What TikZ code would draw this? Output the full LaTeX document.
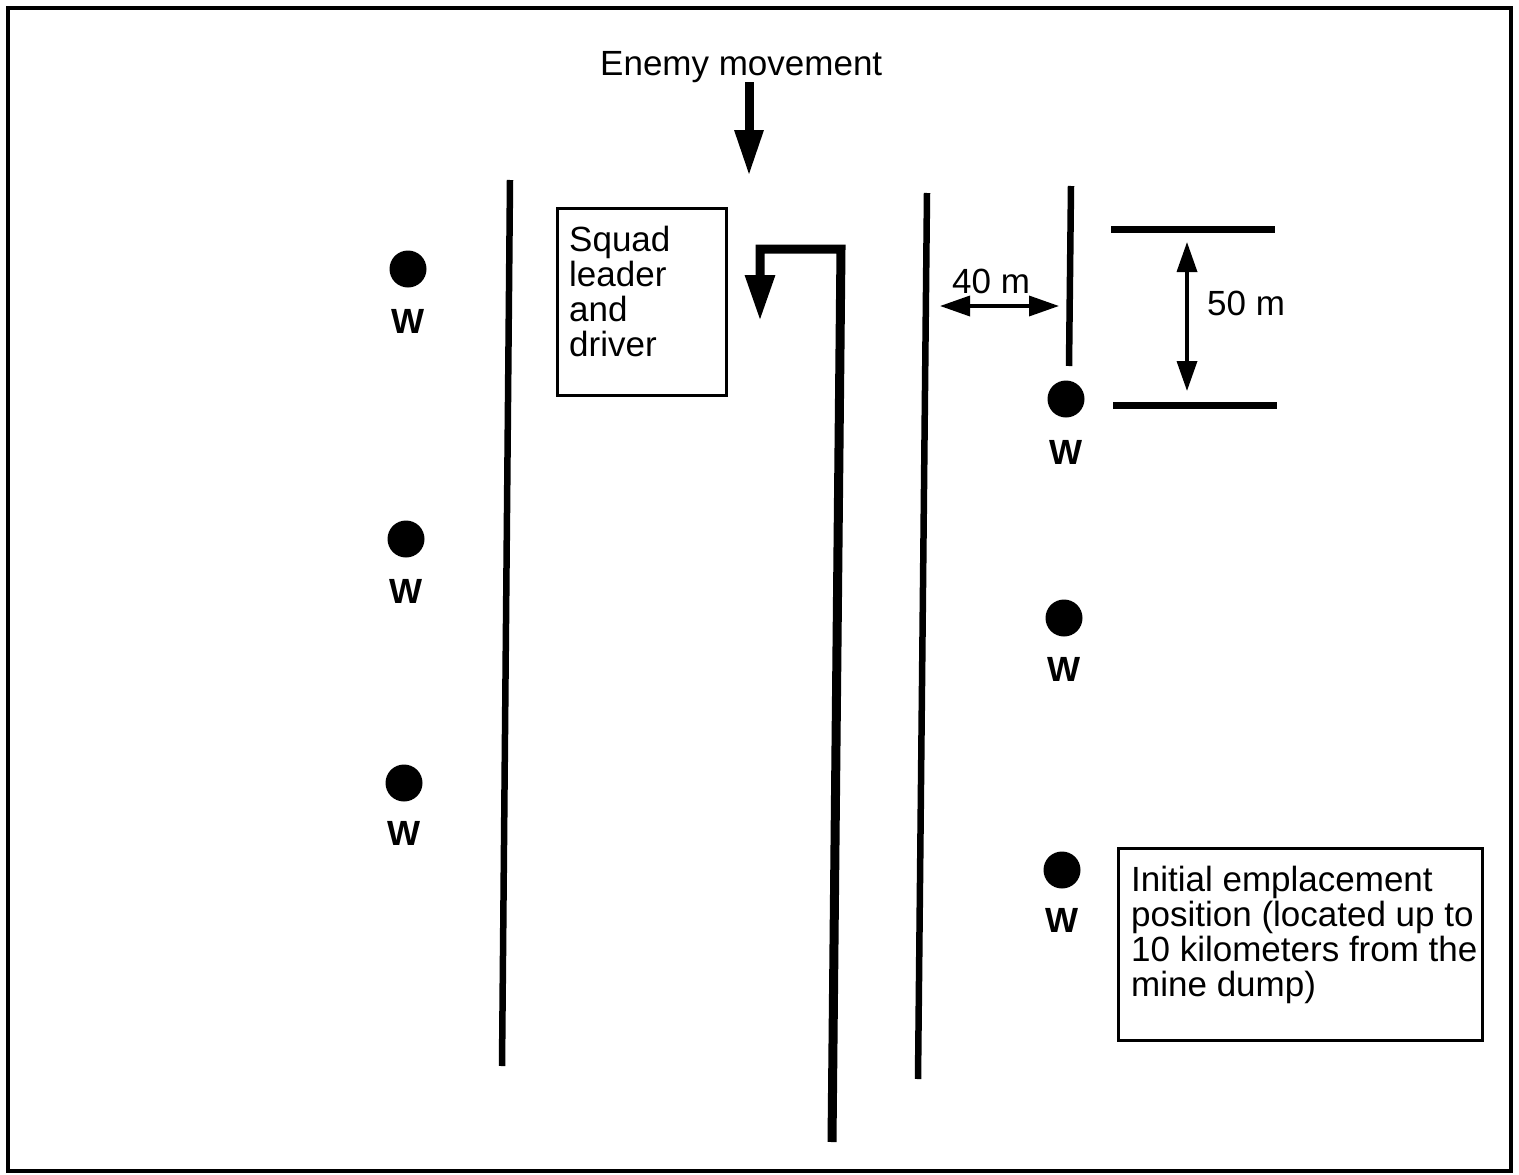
\documentclass[tikz,border=0pt]{standalone}
\usepackage{fontspec}
\setmainfont{Liberation Sans}
\usetikzlibrary{arrows.meta}
\begin{document}
\begin{tikzpicture}[x=1pt,y=-1pt,
  lbl/.style={font=\fontsize{35}{35}\selectfont, inner sep=0pt},
  wlbl/.style={font=\fontsize{35}{35}\selectfont\bfseries, inner sep=0pt},
  dot/.style={circle, fill=black, minimum size=37pt, inner sep=0pt},
  lane/.style={line width=6.5pt},
  bar/.style={line width=7pt},
  road/.style={line width=9pt, line join=miter, -{Triangle[length=46pt,width=28pt]}},
  enemy/.style={line width=9pt, -{Triangle[length=46pt,width=27pt]}},
  dim/.style={line width=3.5pt, {Triangle[length=30pt,width=20pt]}-{Triangle[length=30pt,width=20pt]}},
  boxed/.style={draw, line width=3pt, inner sep=0pt, anchor=north west}
]
\useasboundingbox (0,0) rectangle (1519,1175);
\fill[white] (0,0) rectangle (1519,1175);
\draw[line width=3.5pt] (8,8) rectangle (1511,1171);

% title and enemy arrow
\node[lbl, anchor=base west] (title) at (600,75) {Enemy movement};
\coordinate (e1) at (749,82);
\coordinate (e2) at (749,176);
\draw[enemy] (e1) -- (e2);

% lanes
\coordinate (l1a) at (510,180); \coordinate (l1b) at (502,1066);
\coordinate (l2a) at (927,193); \coordinate (l2b) at (918,1079);
\coordinate (l3a) at (1071,186); \coordinate (l3b) at (1069,366);
\draw[lane] (l1a) -- (l1b);
\draw[lane] (l2a) -- (l2b);
\draw[lane] (l3a) -- (l3b);

% road
\coordinate (r1) at (832,1142);
\coordinate (r2) at (841,249);
\coordinate (r3) at (760,249);
\coordinate (r4) at (760,321);
\draw[road] (r1) -- (r2) -- (r3) -- (r4);

% squad box
\node[boxed, minimum width=169pt, minimum height=187pt] (sq) at (556,207) {};
\node[lbl, anchor=north west, align=left] (sqt) at (569,226) {Squad\\leader\\and\\driver};

% dimension 40 m
\coordinate (d1) at (940,306);
\coordinate (d2) at (1059,306);
\draw[dim] (d1) -- (d2);
\node[lbl, anchor=base west] (d40) at (952,293) {40 m};

% 50 m bars and dimension
\coordinate (b1a) at (1111,229); \coordinate (b1b) at (1275,229);
\coordinate (b2a) at (1113,405); \coordinate (b2b) at (1277,405);
\draw[bar] (b1a) -- (b1b);
\draw[bar] (b2a) -- (b2b);
\coordinate (v1) at (1187,242);
\coordinate (v2) at (1187,391);
\draw[dim] (v1) -- (v2);
\node[lbl, anchor=base west] (d50) at (1207,315) {50 m};

% weapons (dots and W)
\node[dot] (w1) at (408,269) {};
\node[wlbl] (w1l) at (408,321) {W};
\node[dot] (w2) at (406,539) {};
\node[wlbl] (w2l) at (406,591) {W};
\node[dot] (w3) at (404,783) {};
\node[wlbl] (w3l) at (404,833) {W};
\node[dot] (w4) at (1066,399) {};
\node[wlbl] (w4l) at (1066,452) {W};
\node[dot] (w5) at (1064,618) {};
\node[wlbl] (w5l) at (1064,669) {W};
\node[dot] (w6) at (1062,870) {};
\node[wlbl] (w6l) at (1062,920) {W};

% initial emplacement box
\node[boxed, minimum width=364pt, minimum height=192pt] (ie) at (1117,847) {};
\node[lbl, anchor=north west, align=left] (iet) at (1131,866) {Initial emplacement\\position (located up to\\10 kilometers from the\\mine dump)};
\end{tikzpicture}
\end{document}
